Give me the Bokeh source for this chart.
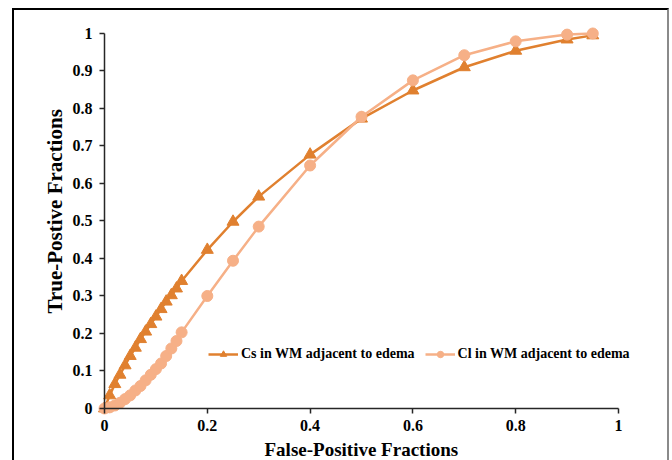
from bokeh.plotting import figure
from bokeh.models import Range1d, FixedTicker, Legend, LegendItem, LinearAxis, Title
from bokeh.embed import file_html
from bokeh.resources import INLINE

# ---- data ----
fpf = [0, 0.01, 0.02, 0.03, 0.04, 0.05, 0.06, 0.07, 0.08, 0.09, 0.10, 0.11, 0.12,
       0.13, 0.14, 0.15, 0.2, 0.25, 0.3, 0.4, 0.5, 0.6, 0.7, 0.8, 0.9, 0.95]
cs_tpf = [0, 0.035, 0.065, 0.09, 0.115, 0.14, 0.162, 0.185, 0.205, 0.225, 0.245, 0.265,
          0.285, 0.302, 0.32, 0.34, 0.423, 0.498, 0.565, 0.677, 0.773, 0.848, 0.91,
          0.954, 0.984, 0.995]
cl_tpf = [0, 0.003, 0.008, 0.015, 0.025, 0.035, 0.048, 0.06, 0.075, 0.09, 0.105, 0.12,
          0.14, 0.16, 0.18, 0.203, 0.3, 0.394, 0.485, 0.648, 0.778, 0.875, 0.942,
          0.979, 0.997, 1.0]
series_names = ["Cs in WM adjacent to edema", "Cl in WM adjacent to edema"]
x_ticks = [0, 0.2, 0.4, 0.6, 0.8, 1]
x_tick_labels = ["0", "0.2", "0.4", "0.6", "0.8", "1"]
y_ticks = [0, 0.1, 0.2, 0.3, 0.4, 0.5, 0.6, 0.7, 0.8, 0.9, 1]
y_tick_labels = ["0", "0.1", "0.2", "0.3", "0.4", "0.5", "0.6", "0.7", "0.8", "0.9", "1"]
x_title = "False-Positive Fractions"
y_title = "True-Postive Fractions"

DARK = "#E0802F"
LIGHT = "#F6B087"
FONT = "Liberation Serif"
AXIS_COLOR = "#262626"

p = figure(output_backend="svg", toolbar_location=None,
           x_range=Range1d(-0.0156, 1.0759), y_range=Range1d(-0.0187, 1.0213),
           frame_width=561, frame_height=390,
           min_border_left=82, min_border_top=15, min_border_right=10, min_border_bottom=40)
p.outline_line_color = None
p.grid.visible = False
p.background_fill_color = "white"
p.border_fill_color = "white"
p.styles = {"border-top": "2px solid black", "border-left": "2px solid black",
            "border-right": "2px solid #8a8a8a", "margin-left": "12px", "margin-top": "8px"}

# label axes (normal side panels): only tick labels
for ax, ticks, labels in ((p.xaxis[0], x_ticks, x_tick_labels), (p.yaxis[0], y_ticks, y_tick_labels)):
    ax.ticker = FixedTicker(ticks=ticks)
    ax.major_label_overrides = {t: l for t, l in zip(ticks, labels)}
    ax.axis_line_color = None
    ax.major_tick_line_color = None
    ax.minor_tick_line_color = None
    ax.major_tick_in = 0
    ax.major_tick_out = 0
    ax.major_label_text_font = FONT
    ax.major_label_text_font_style = "bold"
    ax.major_label_text_font_size = "16px"
    ax.major_label_text_color = "black"
    ax.major_label_standoff = 4

# axis titles, centred on the 0..1 axis span (not on the wider frame)
p.add_layout(Title(text=x_title, align="left", offset=168, standoff=6,
                   text_font=FONT, text_font_style="bold", text_font_size="19px",
                   text_color="black"), "below")
p.add_layout(Title(text=y_title, align="left", offset=102, standoff=6,
                   text_font=FONT, text_font_style="bold", text_font_size="21px",
                   text_color="black"), "left")

# line-and-tick axes drawn at data 0
def line_axis(ticks):
    return LinearAxis(ticker=FixedTicker(ticks=ticks), fixed_location=0, bounds=(0, 1),
                      axis_line_color=AXIS_COLOR, axis_line_width=1.5,
                      major_tick_line_color=AXIS_COLOR, major_tick_line_width=1.5,
                      major_tick_in=5, major_tick_out=0, minor_tick_line_color=None,
                      major_label_text_alpha=0, major_label_text_font_size="1px",
                      major_label_standoff=0)

p.add_layout(line_axis(y_ticks), "right")
p.add_layout(line_axis(x_ticks), "above")

cs_line = p.line(fpf, cs_tpf, line_color=DARK, line_width=2.5)
cs_pts = p.scatter(fpf, cs_tpf, marker="triangle", size=12, fill_color=DARK, line_color=DARK)
cl_line = p.line(fpf, cl_tpf, line_color=LIGHT, line_width=2.5)
cl_pts = p.scatter(fpf, cl_tpf, marker="circle", size=11, fill_color=LIGHT, line_color=LIGHT)

legend = Legend(items=[LegendItem(label=series_names[0], renderers=[cs_line, cs_pts]),
                       LegendItem(label=series_names[1], renderers=[cl_line, cl_pts])],
                orientation="horizontal", location=(112, 53), padding=0, margin=0,
                spacing=10, glyph_width=30, glyph_height=16, label_height=16,
                label_standoff=3, border_line_color=None, background_fill_alpha=0,
                label_text_font=FONT, label_text_font_style="bold",
                label_text_font_size="14px", label_text_color="black")
p.add_layout(legend, "center")

open("out.html", "w").write(file_html(p, INLINE))
